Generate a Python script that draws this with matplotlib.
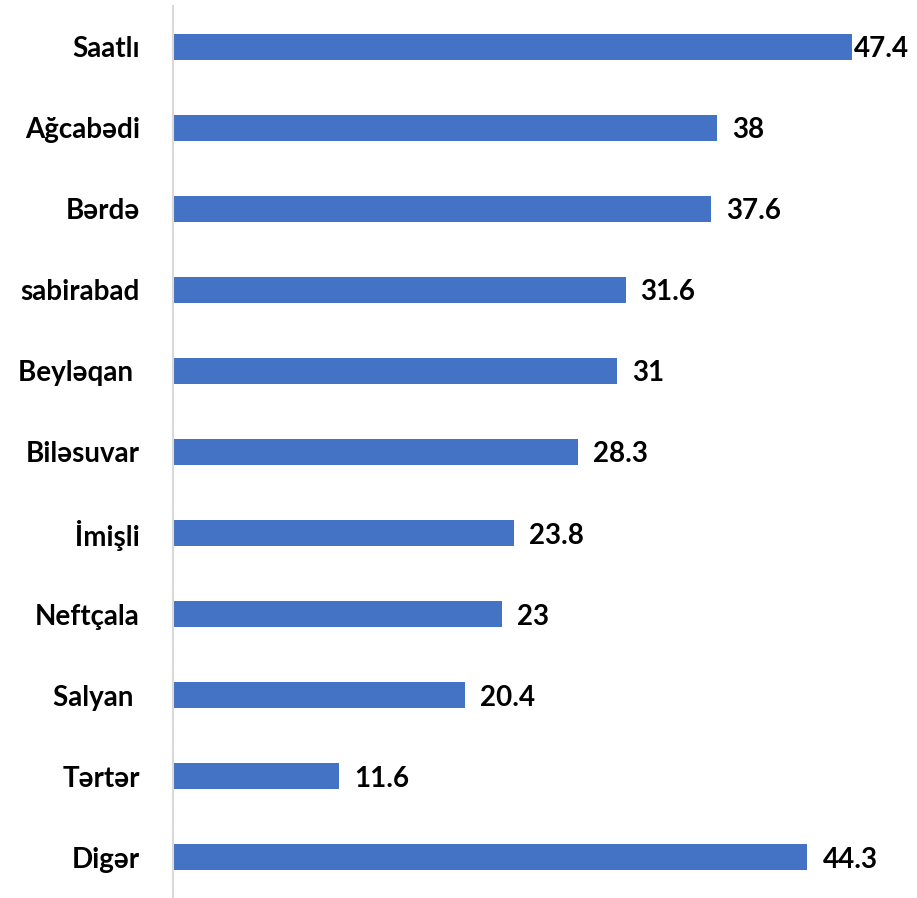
import matplotlib
matplotlib.use('Agg')
from matplotlib import pyplot as plt

regions = ['Saatlı', 'Ağcabədi', 'Bərdə', 'sabirabad', 'Beyləqan ', 'Biləsuvar',
           'İmişli', 'Neftçala', 'Salyan ', 'Tərtər', 'Digər']
values = [47.4, 38, 37.6, 31.6, 31, 28.3, 23.8, 23, 20.4, 11.6, 44.3]
value_labels = ['47.4', '38', '37.6', '31.6', '31', '28.3', '23.8', '23', '20.4', '11.6', '44.3']

plt.rcParams['font.family'] = ['Lato', 'DejaVu Sans']

fig = plt.figure(figsize=(9.17, 8.98), dpi=100)
ax = fig.add_axes([173 / 917, 0.0, 1 - 173 / 917 - 12 / 917, 892 / 898])

pos = list(range(len(regions)))
ax.barh(pos, values, height=0.32, color='#4472C4')
ax.set_ylim(len(regions) - 0.5, -0.5)
xmax = 732 / 14.32
ax.set_xlim(0, xmax)

for p, v, t in zip(pos, values, value_labels):
    off = min(1.05, xmax - v - 3.6)
    ax.text(v + max(off, 0.1), p + 0.03, t, va='center', ha='left',
            fontsize=20, fontweight='bold', color='black')

ax.set_yticks(pos)
ax.set_yticklabels(regions, fontsize=20, fontweight='bold')
ax.tick_params(axis='y', length=0, pad=24)
ax.set_xticks([])
for s in ['top', 'right', 'bottom']:
    ax.spines[s].set_visible(False)
ax.spines['left'].set_color('#d9d9d9')
ax.spines['left'].set_linewidth(1.5)

fig.savefig('out.png', dpi=100)
